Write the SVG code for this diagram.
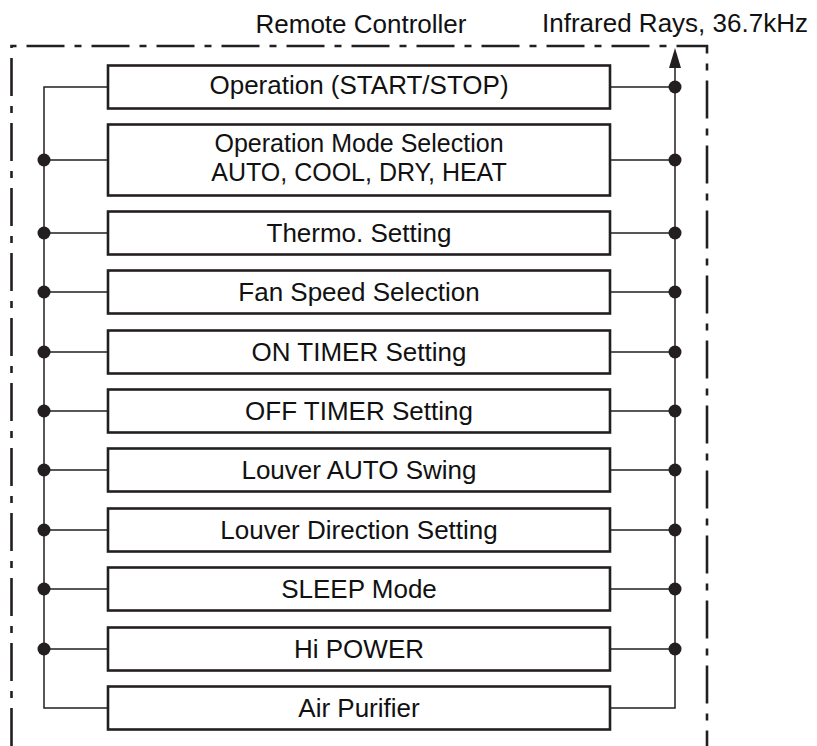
<svg xmlns="http://www.w3.org/2000/svg" width="817" height="746" viewBox="0 0 817 746">
<style>
.box{fill:#fff;stroke:#231f20;stroke-width:2.6}
.t{font-family:"Liberation Sans",Arial,sans-serif;font-size:26px;fill:#111;text-anchor:middle}
.t2{font-size:25px}
.c{fill:none;stroke:#231f20;stroke-width:1.5}
.dot{fill:#231f20}
.border{fill:none;stroke:#231f20;stroke-width:2.6;stroke-dasharray:38 10 7 10}
</style>
<rect width="817" height="746" fill="#fff"/>
<g id="border">
<path class="border" d="M11.5,746 V46 H707 V746"/>
<text class="t" x="361" y="33">Remote Controller</text>
<text class="t" x="675" y="32">Infrared Rays, 36.7kHz</text>
</g>
<g id="connectors">
<path class="c" d="M108,87 H44 V708 H108"/>
<path class="c" d="M610,87 H675 M610,708 H675 V68"/>
<path d="M675,48 L669,68 L681,68 Z" fill="#231f20"/>
<path class="c" d="M44,160 H108 M44,233 H108 M44,292 H108 M44,352 H108 M44,411 H108 M44,470 H108 M44,530 H108 M44,589 H108 M44,649 H108"/>
<path class="c" d="M610,160 H675 M610,233 H675 M610,292 H675 M610,352 H675 M610,411 H675 M610,470 H675 M610,530 H675 M610,589 H675 M610,649 H675"/>
<g class="dot">
<circle cx="44" cy="160" r="6.5"/><circle cx="44" cy="233" r="6.5"/><circle cx="44" cy="292" r="6.5"/><circle cx="44" cy="352" r="6.5"/><circle cx="44" cy="411" r="6.5"/><circle cx="44" cy="470" r="6.5"/><circle cx="44" cy="530" r="6.5"/><circle cx="44" cy="589" r="6.5"/><circle cx="44" cy="649" r="6.5"/>
<circle cx="675" cy="87" r="6.5"/><circle cx="675" cy="160" r="6.5"/><circle cx="675" cy="233" r="6.5"/><circle cx="675" cy="292" r="6.5"/><circle cx="675" cy="352" r="6.5"/><circle cx="675" cy="411" r="6.5"/><circle cx="675" cy="470" r="6.5"/><circle cx="675" cy="530" r="6.5"/><circle cx="675" cy="589" r="6.5"/><circle cx="675" cy="649" r="6.5"/>
</g>
</g>
<g id="n1"><rect class="box" x="108" y="65.5" width="502" height="43"/><text class="t" x="359" y="94">Operation (START/STOP)</text></g>
<g id="n2"><rect class="box" x="108" y="124.5" width="502" height="71"/><text class="t t2" x="359" y="152">Operation Mode Selection</text><text class="t t2" x="359" y="181">AUTO, COOL, DRY, HEAT</text></g>
<g id="n3"><rect class="box" x="108" y="211.5" width="502" height="43"/><text class="t" x="359" y="242">Thermo. Setting</text></g>
<g id="n4"><rect class="box" x="108" y="270.5" width="502" height="43"/><text class="t" x="359" y="301">Fan Speed Selection</text></g>
<g id="n5"><rect class="box" x="108" y="330.5" width="502" height="43"/><text class="t" x="359" y="361">ON TIMER Setting</text></g>
<g id="n6"><rect class="box" x="108" y="389.5" width="502" height="43"/><text class="t" x="359" y="420">OFF TIMER Setting</text></g>
<g id="n7"><rect class="box" x="108" y="448.5" width="502" height="43"/><text class="t" x="359" y="479">Louver AUTO Swing</text></g>
<g id="n8"><rect class="box" x="108" y="508.5" width="502" height="43"/><text class="t" x="359" y="539">Louver Direction Setting</text></g>
<g id="n9"><rect class="box" x="108" y="567.5" width="502" height="43"/><text class="t" x="359" y="598">SLEEP Mode</text></g>
<g id="n10"><rect class="box" x="108" y="627.5" width="502" height="43"/><text class="t" x="359" y="658">Hi POWER</text></g>
<g id="n11"><rect class="box" x="108" y="686.5" width="502" height="43"/><text class="t" x="359" y="717">Air Purifier</text></g>
</svg>
